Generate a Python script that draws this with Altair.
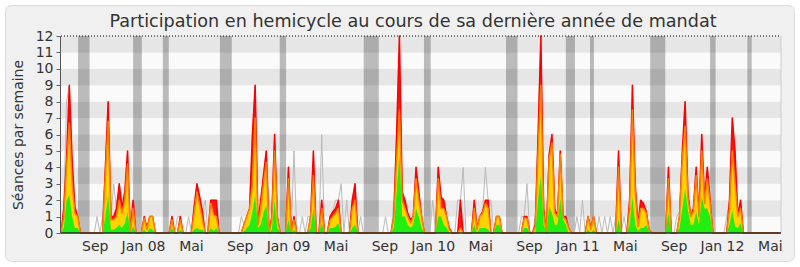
import altair as alt
import pandas as pd

TITLE = "Participation en hemicycle au cours de sa dernière année de mandat"
Y_TITLE = "Séances par semaine"

# first week of the series (one value per week)
start_date = "2007-06-08"

# présences (red)
red = [
    0, 1.5, 4.5, 9, 4.5, 1.6, 1, 0, 0, 0,
    0, 0, 0, 0, 0, 0, 4, 8, 1, 1,
    1.5, 3, 1.5, 2.5, 5, 0, 2, 0, 0, 0,
    1, 0.3, 1, 1, 0, 0, 0, 0, 0, 0,
    1, 0, 0, 1, 0, 0, 0, 0, 1.5, 3,
    2.2, 1.3, 0, 0, 2, 2, 2, 0, 0, 0,
    0, 0, 0, 0, 0, 0, 0.5, 1, 1.5, 6,
    9, 0.5, 2, 3.5, 5, 0, 1, 6, 1, 0,
    0, 0, 4, 0, 1, 0, 0, 0, 0, 0,
    1, 5, 0, 0, 2, 0, 0, 1, 1.3, 1.5,
    2, 0, 0, 0, 0, 2, 3, 0, 0, 0,
    0, 0, 0, 0, 0, 0, 0, 0, 0, 0,
    1, 6, 12, 2.5, 2, 1.2, 0.8, 1, 4, 2.5,
    1, 0, 0, 0, 0, 0, 4, 2.2, 2, 1,
    0.3, 0, 0, 0, 2, 0, 0, 0, 0, 2,
    0.3, 1, 1.3, 2, 2, 0, 0, 1, 1, 0,
    0, 0, 0, 0, 0, 0, 0, 1, 1, 0,
    0, 0.5, 6, 12, 1.5, 0, 4.8, 6, 1.5, 1,
    5, 1, 1, 0.3, 0, 0, 0, 0, 0, 0,
    1, 0.3, 1, 0, 0, 0, 0, 0, 0, 0,
    0, 5, 0, 0, 0, 2, 9, 3, 0.5, 2,
    1.8, 1.3, 0.2, 0, 0, 0, 0, 0, 0, 4,
    0, 0, 0, 1, 5, 8, 2.5, 1, 1.5, 4,
    1, 6, 2, 4, 2, 0, 0, 0, 0, 0,
    0, 2, 7, 5, 1, 2, 0, 0, 0, 0,
    0, 0, 0, 0, 0, 0, 0, 0, 0, 0,
]

# participations (yellow)
yellow = [
    0, 1, 4, 6.7, 3, 1.2, 1, 0, 0, 0,
    0, 0, 0, 0, 0, 0, 3.5, 6.8, 0.8, 0.8,
    1, 2, 1.2, 2, 4.2, 0, 1.5, 0, 0, 0,
    0.9, 0.2, 1, 1, 0, 0, 0, 0, 0, 0,
    0.8, 0, 0, 0.8, 0, 0, 0, 0, 1.2, 2.5,
    1.7, 0.8, 0, 0, 1.8, 1.1, 1, 0, 0, 0,
    0, 0, 0, 0, 0, 0, 0.5, 1, 1.5, 3,
    7, 0.5, 1.5, 3, 4.3, 0, 0.8, 5, 1, 0,
    0, 0, 3.3, 0, 0.8, 0, 0, 0, 0, 0,
    1, 3.5, 0, 0, 1.5, 0, 0, 0.8, 1, 1.2,
    1.5, 0, 0, 0, 0, 1.5, 2, 0, 0, 0,
    0, 0, 0, 0, 0, 0, 0, 0, 0, 0,
    1, 4.5, 7.5, 2, 1.5, 1, 0.6, 1, 3.3, 2,
    1, 0, 0, 0, 0, 0, 3.3, 1.5, 1.5, 1,
    0.2, 0, 0, 0, 0.3, 0, 0, 0, 0, 1.5,
    0.2, 1, 1.2, 1.8, 1.5, 0, 0, 1, 1, 0,
    0, 0, 0, 0, 0, 0, 0, 0.9, 0.9, 0,
    0, 0.4, 5, 9, 1.2, 0, 4.5, 5.5, 1.2, 1,
    4.8, 1, 0.8, 0.3, 0, 0, 0, 0, 0, 0,
    1, 0.2, 1, 0, 0, 0, 0, 0, 0, 0,
    0, 4, 0, 0, 0, 1.5, 7.5, 2.5, 0.4, 1.5,
    1.5, 1.2, 0.2, 0, 0, 0, 0, 0, 0, 3.3,
    0, 0, 0, 1, 4.5, 6.5, 2.2, 1, 1.3, 3.5,
    1, 5, 1.8, 3.3, 1.8, 0, 0, 0, 0, 0,
    0, 1.5, 5, 3, 1, 1.5, 0, 0, 0, 0,
    0, 0, 0, 0, 0, 0, 0, 0, 0, 0,
]

# interventions (green)
green = [
    0, 0.3, 2, 2.3, 1, 0.3, 0.3, 0, 0, 0,
    0, 0, 0, 0, 0, 0, 1, 2.3, 0.2, 0.2,
    0.3, 0.5, 0.3, 0.6, 1.3, 0, 0.4, 0, 0, 0,
    0.2, 0, 0.3, 0.2, 0, 0, 0, 0, 0, 0,
    0.3, 0, 0, 0.2, 0, 0, 0, 0, 0.2, 0.3,
    0.2, 0.2, 0, 0, 0.3, 0.1, 0.3, 0, 0, 0,
    0, 0, 0, 0, 0, 0, 0.1, 0.3, 0.5, 1.3,
    2.3, 0.3, 0.5, 1.2, 1.7, 0, 0.2, 2, 0.3, 0,
    0, 0, 0.8, 0, 0.2, 0, 0, 0, 0, 0,
    0.3, 1.5, 0, 0, 0.6, 0, 0, 0.3, 0.3, 0.4,
    0.6, 0, 0, 0, 0, 0.3, 0.5, 0, 0, 0,
    0, 0, 0, 0, 0, 0, 0, 0, 0, 0,
    0.3, 2.5, 4.8, 1, 1, 0.5, 0.3, 0.5, 1.5, 1,
    0.3, 0, 0, 0, 0, 0, 1, 1, 0.5, 0.3,
    0, 0, 0, 0, 0, 0, 0, 0, 0, 0.5,
    0, 0.3, 0.3, 0.3, 0.2, 0, 0, 0.5, 0.5, 0,
    0, 0, 0, 0, 0, 0, 0, 0.3, 0.3, 0,
    0, 0, 2, 3.5, 0.5, 0, 1.6, 1.2, 0.5, 0.5,
    2.1, 0.8, 0.5, 0, 0, 0, 0, 0, 0, 0,
    0.2, 0, 0.2, 0, 0, 0, 0, 0, 0, 0,
    0, 0.8, 0, 0, 0, 0.5, 2.2, 0.5, 0.1, 0.3,
    0.3, 0.5, 0.1, 0, 0, 0, 0, 0, 0, 1.2,
    0, 0, 0, 0.3, 1.5, 2.7, 1.4, 0.5, 0.5, 1.3,
    0.5, 2.2, 1.5, 1.5, 1, 0, 0, 0, 0, 0,
    0, 0.5, 1.4, 0.4, 0.3, 0.6, 0, 0, 0, 0,
    0, 0, 0, 0, 0, 0, 0, 0, 0, 0,
]

# séances en hemicycle (grey line)
gray = [
    0, 1.5, 8, 9, 4.5, 1.6, 1, 0, 0, 0,
    0, 0, 0, 1, 0, 1, 4, 8, 1, 3,
    1.5, 3, 2, 2.5, 5, 0, 2, 0, 0, 0,
    1, 0.3, 1, 1, 0, 0, 0, 0, 0, 0,
    1, 0, 1, 1, 0, 0, 1, 0, 2, 3,
    2.2, 1.3, 2, 0, 2, 2, 2, 0, 0, 0,
    0, 0, 0, 0, 0, 1, 0.5, 1, 1.5, 6,
    9, 2, 2, 3.5, 5, 2, 1, 6, 1, 0,
    0, 0, 4, 0, 5, 0, 0, 1, 0, 1,
    1, 5, 0, 0, 6, 0, 0, 1, 1.3, 2,
    2, 3, 0, 2, 0, 2, 3, 0, 1, 0,
    0, 0, 0, 0, 0, 0, 0, 1, 0, 0,
    2, 6, 12, 2.5, 2, 1.2, 0.8, 1, 4, 2.5,
    1, 0, 0, 0, 2, 0, 4, 2.2, 2, 1,
    0.3, 0, 0, 2, 2, 4, 0, 0, 0, 2,
    0.3, 1, 1.3, 4, 2, 2, 0, 1, 1, 0,
    0, 0, 0, 0, 0, 0, 1, 1, 3, 0,
    0, 1, 6, 12, 1.5, 0, 4.8, 6, 1.5, 1,
    5, 1, 1, 0.3, 0, 0, 1, 0, 2, 0,
    1, 0.3, 1, 0, 1, 0, 1, 0, 1, 0,
    1, 5, 0, 1, 0, 2, 9, 3, 0.5, 2,
    1.8, 1.3, 0.2, 0, 0, 0, 0, 0, 0, 4,
    0, 0, 1, 1.3, 5, 8, 2.5, 1, 1.5, 4,
    1, 6, 2, 4, 2, 0, 0, 0, 0, 0,
    1, 2, 7, 5, 1, 2, 0, 0, 0, 0,
    0, 0, 0, 0, 0, 0, 0, 0, 0, 0,
]

# vacances parlementaires
vac_start = ["2007-07-21", "2007-12-07", "2008-02-20", "2008-07-13", "2008-12-11",
             "2009-07-11", "2009-12-10", "2010-07-05", "2010-12-03", "2011-02-02",
             "2011-07-04", "2011-12-02", "2012-03-05"]
vac_end = ["2007-08-19", "2007-12-29", "2008-03-06", "2008-08-12", "2008-12-27",
           "2009-08-18", "2009-12-27", "2010-08-03", "2010-12-26", "2011-02-12",
           "2011-08-11", "2011-12-16", "2012-03-16"]

tick_dates = ["2007-09-01", "2008-01-01", "2008-05-01", "2008-09-01", "2009-01-01",
              "2009-05-01", "2009-09-01", "2010-01-01", "2010-05-01", "2010-09-01",
              "2011-01-01", "2011-05-01", "2011-09-01", "2012-01-01", "2012-05-01"]
tick_labels = ["Sep", "Jan 08", "Mai", "Sep", "Jan 09", "Mai", "Sep", "Jan 10", "Mai",
               "Sep", "Jan 11", "Mai", "Sep", "Jan 12", "Mai"]

y_ticks = list(range(13))


def ms(d):
    return int(pd.Timestamp(d).value // 1_000_000)


DAY = 86_400_000
t0 = ms(start_date)
t1 = t0 + 1817 * DAY

df = pd.DataFrame({
    "t": [t0 + 7 * i * DAY for i in range(len(red))],
    "red": red, "yellow": yellow, "green": green, "gray": gray,
})
vac_df = pd.DataFrame({"s": [ms(d) for d in vac_start], "e": [ms(d) for d in vac_end]})
bands_df = pd.DataFrame({
    "lo": y_ticks[:-1],
    "hi": y_ticks[1:],
    "shade": ["light" if v % 2 == 0 else "dark" for v in y_ticks[:-1]],
})
tick_ms = [ms(d) for d in tick_dates]
label_expr = "".join(f"time(datum.value) == {v} ? '{l}' : " for v, l in zip(tick_ms, tick_labels)) + "''"

W, H = 720, 197
FONT = "DejaVu Sans"
TXT = "#333333"

xscale = alt.Scale(type="utc", domain=[t0, t1], nice=False)
yscale = alt.Scale(domain=[0, 12], nice=False, zero=True)

xaxis = alt.Axis(values=tick_ms, labelExpr=label_expr, ticks=False, domain=False, grid=False,
                 labelFontSize=14, labelFont=FONT, labelColor=TXT, labelPadding=6,
                 labelOverlap=False, labelFlush=False, title=None, zindex=1)
yaxis = alt.Axis(values=y_ticks, grid=False, tickSize=4, tickColor="#666666", domainColor="#555555",
                 offset=1, labelFontSize=14, labelFont=FONT, labelColor=TXT, labelPadding=3,
                 labelOverlap=False, title=Y_TITLE, titleFont=FONT, titleFontSize=14,
                 titleFontWeight="normal", titleColor=TXT, titlePadding=10, zindex=1)

one = pd.DataFrame({"k": [0]})

bg = alt.Chart(one).mark_rect(cornerRadius=6, fill="#F0F0F0", stroke="#DCDCDC", strokeWidth=1).encode(
    x=alt.value(-55.5), x2=alt.value(733.5), y=alt.value(-30.5), y2=alt.value(225.5))

title = alt.Chart(pd.DataFrame({"title": [TITLE]})).mark_text(
    font=FONT, fontSize=17.6, color=TXT, align="center", baseline="alphabetic").encode(
    text="title:N", x=alt.value(352), y=alt.value(-9.5))

bands = alt.Chart(bands_df).mark_rect().encode(
    x=alt.value(0), x2=alt.value(W),
    y=alt.Y("lo:Q", scale=yscale, axis=yaxis), y2="hi:Q",
    color=alt.Color("shade:N", scale=alt.Scale(domain=["light", "dark"], range=["#FAFAFA", "#E6E6E6"]),
                    legend=None))

X = alt.X("t:T", scale=xscale, axis=xaxis)

vac = alt.Chart(vac_df).mark_rect(color="#000000", opacity=0.25).encode(
    x=alt.X("s:T", scale=xscale, axis=xaxis), x2="e:T", y=alt.value(0), y2=alt.value(H))

base = alt.Chart(df)


def Y(f):
    return alt.Y(f"{f}:Q", scale=yscale, axis=yaxis)


gray_line = base.mark_line(color="#BBBBBB", strokeWidth=1, strokeJoin="round").encode(x=X, y=Y("gray"))
red_area = base.mark_area(color="#FF0000", opacity=0.9).encode(x=X, y=Y("red"))
red_line = base.mark_line(color="#FF0000", strokeWidth=1.5, strokeJoin="round").encode(x=X, y=Y("red"))
yel_area = base.mark_area(color="#FFD200").encode(x=X, y=Y("yellow"))
org_line = base.mark_line(color="#FF8000", strokeWidth=1.5, strokeJoin="round").encode(x=X, y=Y("yellow"))
grn_area = base.mark_area(color="#22EE11").encode(x=X, y=Y("green"))

top_rule = alt.Chart(one).mark_rule(color="#000000", strokeWidth=1, strokeDash=[1, 2]).encode(
    x=alt.value(0), x2=alt.value(W), y=alt.value(0))
right_rule = alt.Chart(one).mark_rule(color="#CCCCCC", strokeWidth=1).encode(
    x=alt.value(W), y=alt.value(0), y2=alt.value(H))
base_rule = alt.Chart(one).mark_rule(color="#2A2A2A", strokeWidth=1.5).encode(
    x=alt.value(0), x2=alt.value(W), y=alt.value(H))

chart = alt.layer(
    bg, title, bands, vac, gray_line, red_area, red_line, yel_area, org_line, grn_area,
    top_rule, right_rule, base_rule
).properties(
    width=W, height=H,
    padding={"left": 61, "top": 36, "right": 19, "bottom": 34},
    autosize=alt.AutoSizeParams(type="none"),
).configure(background="#FFFFFF").configure_view(stroke=None)

chart.save("out.html", embed_options={"renderer": "svg", "actions": False})
